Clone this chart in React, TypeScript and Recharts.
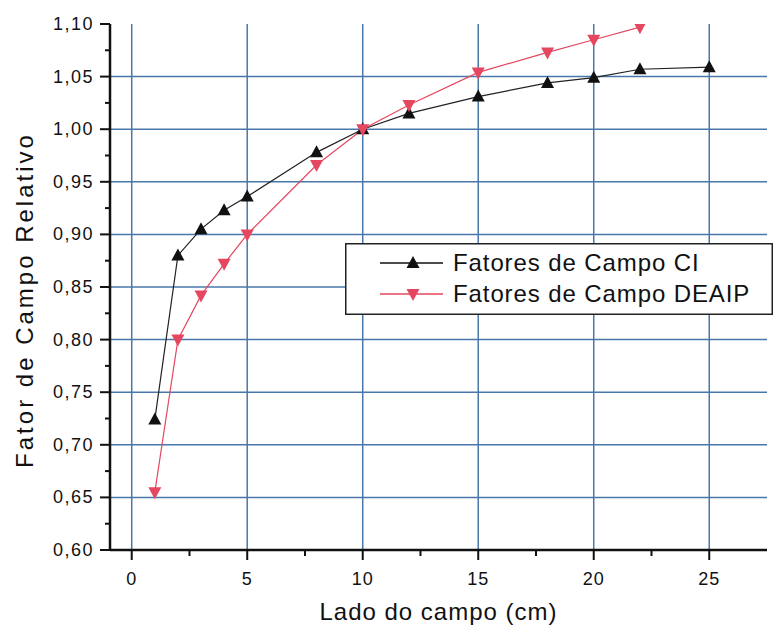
import { LineChart, Line, XAxis, YAxis, ReferenceLine, Legend } from "recharts";

const ciSizes = [1, 2, 3, 4, 5, 8, 10, 12, 15, 18, 20, 22, 25];
const ciFactors = [0.724, 0.88, 0.905, 0.923, 0.936, 0.978, 1.0, 1.015, 1.031, 1.044, 1.049, 1.057, 1.059];

const deaipSizes = [1, 2, 3, 4, 5, 8, 10, 12, 15, 18, 20, 22];
const deaipFactors = [0.655, 0.8, 0.842, 0.872, 0.9, 0.966, 1.0, 1.023, 1.054, 1.073, 1.085, 1.097];

const xMajor = [0, 5, 10, 15, 20, 25];
const xTicks = [0, 2.5, 5, 7.5, 10, 12.5, 15, 17.5, 20, 22.5, 25];
const yMajor = [0.6, 0.65, 0.7, 0.75, 0.8, 0.85, 0.9, 0.95, 1.0, 1.05, 1.1];
const yTicks = [
  0.6, 0.625, 0.65, 0.675, 0.7, 0.725, 0.75, 0.775, 0.8, 0.825, 0.85, 0.875, 0.9,
  0.925, 0.95, 0.975, 1.0, 1.025, 1.05, 1.075, 1.1,
];
const xGrid = [0, 5, 10, 15, 20, 25];
const yGrid = [0.65, 0.7, 0.75, 0.8, 0.85, 0.9, 0.95, 1.0, 1.05];

const ciData = ciSizes.map((x, i) => ({ x, ci: ciFactors[i] }));
const deaipData = deaipSizes.map((x, i) => ({ x, deaip: deaipFactors[i] }));

const FONT = "'Liberation Sans', Arial, Helvetica, sans-serif";
const RED = "#e4475f";
const GRID = "#4878aa";

const isMajor = (list: number[], v: number) => list.some((m) => Math.abs(m - v) < 1e-6);

function XTick(props: any) {
  const { x, y, payload } = props;
  const major = isMajor(xMajor, payload.value);
  return (
    <g>
      <line x1={x} x2={x} y1={y} y2={y + (major ? 10 : 6)} stroke="#111" strokeWidth={2} />
      {major && (
        <text x={x} y={y + 35} textAnchor="middle" fontSize={18} fontFamily={FONT} letterSpacing={1} fill="#111">
          {payload.value}
        </text>
      )}
    </g>
  );
}

function YTick(props: any) {
  const { x, y, payload } = props;
  const major = isMajor(yMajor, payload.value);
  return (
    <g>
      <line x1={x} x2={x - (major ? 10 : 5)} y1={y} y2={y} stroke="#111" strokeWidth={2} />
      {major && (
        <text x={x - 16} y={y + 6} textAnchor="end" fontSize={18} fontFamily={FONT} letterSpacing={1.5} fill="#111">
          {payload.value.toFixed(2).replace(".", ",")}
        </text>
      )}
    </g>
  );
}

function triUp(cx: number, cy: number) {
  return `M${cx},${cy - 7} L${cx - 6.5},${cy + 5} L${cx + 6.5},${cy + 5} Z`;
}
function triDown(cx: number, cy: number) {
  return `M${cx},${cy + 7} L${cx - 6.5},${cy - 5} L${cx + 6.5},${cy - 5} Z`;
}

function LegendBox() {
  return (
    <svg width={428} height={72} style={{ display: "block" }}>
      <rect x={0.75} y={0.75} width={426.5} height={70.5} fill="#fff" stroke="#222" strokeWidth={1.5} />
      <line x1={35} x2={98} y1={20} y2={20} stroke="#111" strokeWidth={1.5} />
      <path d={triUp(68, 20)} fill="#111" />
      <text x={108} y={28} fontSize={24} fontFamily={FONT} letterSpacing={0.9} fill="#111">
        Fatores de Campo CI
      </text>
      <line x1={35} x2={98} y1={51} y2={51} stroke={RED} strokeWidth={1.5} />
      <path d={triDown(68, 51)} fill={RED} />
      <text x={108} y={59} fontSize={24} fontFamily={FONT} letterSpacing={0.9} fill="#111">
        Fatores de Campo DEAIP
      </text>
    </svg>
  );
}

function YTitle() {
  return (
    <text
      transform="translate(33,300) rotate(-90)"
      textAnchor="middle"
      fontSize={24}
      fontFamily={FONT}
      letterSpacing={3}
      fill="#111"
    >
      Fator de Campo Relativo
    </text>
  );
}

export default function App() {
  return (
    <div style={{ position: "absolute", left: 0, top: 0, width: 777, height: 632, background: "#fff" }}>
      <LineChart width={777} height={632} margin={{ top: 24, right: 10, left: 0, bottom: 0 }}>
        {xGrid.map((v) => (
          <ReferenceLine key={"gx" + v} x={v} stroke={GRID} strokeWidth={1.5} />
        ))}
        {yGrid.map((v) => (
          <ReferenceLine key={"gy" + v} y={v} stroke={GRID} strokeWidth={1.5} />
        ))}
        <XAxis
          type="number"
          dataKey="x"
          domain={[-0.94, 27.5]}
          ticks={xTicks}
          allowDataOverflow
          height={82}
          tickSize={0}
          tickMargin={0}
          tickLine={false}
          axisLine={{ stroke: "#111", strokeWidth: 2.5 }}
          tick={<XTick />}
          interval={0}
          label={{
            value: "Lado do campo (cm)",
            position: "insideBottom",
            offset: 12,
            fontSize: 24,
            fontFamily: FONT,
            letterSpacing: 1,
            fill: "#111",
          }}
        />
        <YAxis
          type="number"
          domain={[0.6, 1.1]}
          ticks={yTicks}
          allowDataOverflow
          width={110}
          tickSize={0}
          tickMargin={0}
          tickLine={false}
          axisLine={{ stroke: "#111", strokeWidth: 2.5 }}
          tick={<YTick />}
          interval={0}
          label={{ content: <YTitle /> }}
        />
        <Line
          data={ciData}
          dataKey="ci"
          name="Fatores de Campo CI"
          stroke="#222"
          strokeWidth={1.2}
          isAnimationActive={false}
          dot={(p: any) => <path key={"c" + p.index} d={triUp(p.cx, p.cy)} fill="#111" />}
        />
        <Line
          data={deaipData}
          dataKey="deaip"
          name="Fatores de Campo DEAIP"
          stroke={RED}
          strokeWidth={1.2}
          isAnimationActive={false}
          dot={(p: any) => <path key={"d" + p.index} d={triDown(p.cx, p.cy)} fill={RED} />}
        />
        <Legend
          layout="horizontal"
          verticalAlign="middle"
          align="center"
          content={<LegendBox />}
          wrapperStyle={{ left: 345, top: 243, width: 428, height: 72 }}
        />
      </LineChart>
    </div>
  );
}
